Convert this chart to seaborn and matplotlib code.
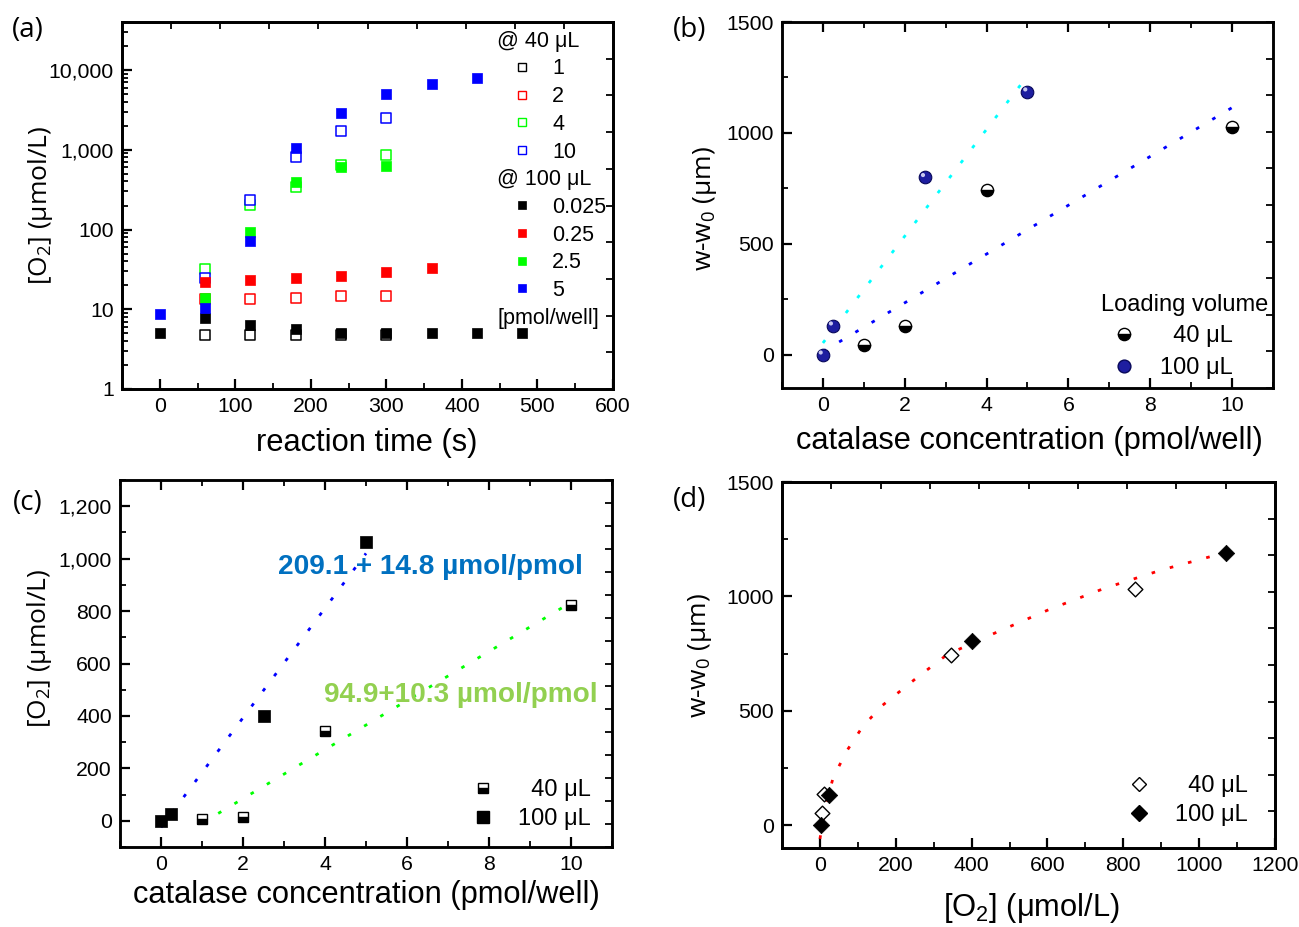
import numpy as np
import pandas as pd
import matplotlib
matplotlib.use("Agg")
import matplotlib.pyplot as plt
import matplotlib.transforms as mtransforms
from matplotlib.lines import Line2D
from matplotlib.ticker import MultipleLocator, FixedLocator, FuncFormatter, LogLocator, NullFormatter
import seaborn as sns

sns.set_theme(style="ticks")
plt.rcParams["font.family"] = ["Liberation Sans", "DejaVu Sans"]
plt.rcParams.update({
    "axes.linewidth": 1.8, "axes.edgecolor": "black",
    "xtick.color": "black", "ytick.color": "black", "text.color": "black",
    "axes.labelcolor": "black",
})

# ---------------- data ----------------
# (a) O2 vs reaction time, 40 uL loading (open squares)
time_40 = [60, 120, 180, 240, 300]
o2_40_c1 = [4.7, 4.7, 4.7, 4.7, 4.7]
o2_40_c2 = [13.5, 13.6, 14.0, 14.7, 14.7]
o2_40_c4 = [32, 205, 338, 645, 850]
o2_40_c10 = [25, 235, 800, 1710, 2510]
# (a) 100 uL loading (filled squares)
time_100_c0025 = [0, 60, 120, 180, 240, 300, 360, 420, 480]
o2_100_c0025 = [5.06, 7.8, 6.4, 5.6, 5.06, 5.0, 5.0, 5.0, 4.97]
time_100_c025 = [60, 120, 180, 240, 300, 360]
o2_100_c025 = [21.9, 23.5, 24.6, 26.4, 29.0, 33.0]
time_100_c25 = [60, 120, 180, 240, 300]
o2_100_c25 = [13.8, 92.5, 395, 601, 631]
time_100_c5 = [0, 60, 120, 180, 240, 300, 360, 420]
o2_100_c5 = [8.6, 10.4, 71.4, 1038, 2925, 5012, 6610, 7870]

# (b) w-w0 vs catalase concentration
cat_40 = [1, 2, 4, 10]
w_40 = [45, 129, 741, 1028]
cat_100 = [0, 0.25, 2.5, 5]
w_100 = [0, 131, 800, 1186]
fit_b100_x = [0, 5]
fit_b100_y = [53, 1257]
fit_b40_x = [0, 10]
fit_b40_y = [14, 1114]

# (c) O2 vs catalase concentration
o2c_40 = [6, 13, 344, 825]
o2c_100 = [0, 27, 400, 1064]
fit_c100_x = [0, 5]
fit_c100_y = [-25, 1020]
fit_c40_x = [1, 10]
fit_c40_y = [-9, 833]

# (d) w-w0 vs O2
o2d_40 = [4.5, 11, 346, 830]
wd_40 = [52, 135, 745, 1033]
o2d_100 = [2, 25, 402, 1070]
wd_100 = [0, 132, 803, 1190]
fit_d_x = [0, 9, 18, 35, 71, 112, 163, 256, 335, 459, 605, 750, 900, 1050]
fit_d_y = [-60, 26, 105, 208, 325, 429, 521, 645, 745, 838, 943, 1035, 1115, 1183]

legend_a_40 = ["1", "2", "4", "10"]
legend_a_100 = ["0.025", "0.25", "2.5", "5"]
series_colors = ["#000000", "#ff0000", "#00ff00", "#0000ff"]

# ---------------- figure ----------------
W, H = 1299, 927
fig = plt.figure(figsize=(W / 100, H / 100), dpi=100)


def add_ax(l, t, r, b):
    return fig.add_axes([l / W, (H - b) / H, (r - l) / W, (b - t) / H])


TICKFS = 15.3
LABELFS = 22.2
YLABFS = 19
LEGFS = 17
DOT = (0, (1.3, 5.5))


def style_ticks(ax):
    ax.tick_params(which="both", direction="in", labelsize=TICKFS, pad=6)
    ax.tick_params(which="major", length=7, width=1.6)
    ax.tick_params(which="minor", length=4, width=1.3)


def twin_ticks(ax, top_n=None, right_n=None):
    if top_n is not None:
        tx = ax.twiny()
        tx.set_xlim(0, top_n)
        tx.xaxis.set_major_locator(MultipleLocator(1))
        tx.tick_params(axis="x", direction="in", length=5, width=1.3, labeltop=False, top=True)
        tx.set_xticklabels([])
    if right_n is not None:
        ty = ax.twinx()
        ty.set_ylim(0, right_n)
        ty.yaxis.set_major_locator(MultipleLocator(1))
        ty.tick_params(axis="y", direction="in", length=5, width=1.3, labelright=False, right=True)
        ty.set_yticklabels([])


comma = FuncFormatter(lambda v, p: f"{v:,.0f}")

# ---------- (a) ----------
axa = add_ax(122, 22, 613, 389)
open_sets = [(time_40, o2_40_c1), (time_40, o2_40_c2), (time_40, o2_40_c4), (time_40, o2_40_c10)]
fill_sets = [(time_100_c0025, o2_100_c0025), (time_100_c025, o2_100_c025),
             (time_100_c25, o2_100_c25), (time_100_c5, o2_100_c5)]
for (xs, ys), c in zip(open_sets, series_colors):
    sns.scatterplot(x=xs, y=ys, ax=axa, marker="s", s=52, color=c, facecolor="white",
                    edgecolor=c, linewidth=1.1, legend=False, zorder=3)
for (xs, ys), c in zip(fill_sets, series_colors):
    sns.scatterplot(x=xs, y=ys, ax=axa, marker="s", s=52, color=c, edgecolor=c,
                    linewidth=0.5, legend=False, zorder=4)
axa.set_yscale("log")
axa.set_xlim(-50, 600)
axa.set_ylim(1, 40000)
axa.xaxis.set_major_locator(MultipleLocator(100))
axa.xaxis.set_minor_locator(MultipleLocator(50))
axa.yaxis.set_major_locator(FixedLocator([1, 10, 100, 1000, 10000]))
axa.yaxis.set_major_formatter(comma)
axa.yaxis.set_minor_locator(LogLocator(base=10, subs=np.arange(2, 10)))
axa.yaxis.set_minor_formatter(NullFormatter())
style_ticks(axa)
axa.set_xlabel("reaction time (s)", fontsize=LABELFS, va="center")
axa.xaxis.set_label_coords(0.499, -0.147)
axa.set_ylabel(r"[O$\mathregular{_2}$] (µmol/L)", fontsize=YLABFS, fontfamily="Open Sans", va="center")
axa.yaxis.set_label_coords(-0.167, 0.50)

handles, labels = [], []
handles.append(Line2D([], [], linestyle="none"))
labels.append("@ 40 μL")
for lab, c in zip(legend_a_40, series_colors):
    handles.append(Line2D([], [], linestyle="none", marker="s", markersize=6.3,
                          markerfacecolor="white", markeredgecolor=c, markeredgewidth=1.0))
    labels.append(lab)
handles.append(Line2D([], [], linestyle="none"))
labels.append("@ 100 μL")
for lab, c in zip(legend_a_100, series_colors):
    handles.append(Line2D([], [], linestyle="none", marker="s", markersize=6.3,
                          markerfacecolor=c, markeredgecolor=c, markeredgewidth=0.5))
    labels.append(lab)
handles.append(Line2D([], [], linestyle="none"))
labels.append("[pmol/well]")
leg_a = axa.legend(handles, labels, loc="upper left", bbox_to_anchor=(0.793, 0.976),
                   frameon=False, fontsize=15.5, handlelength=1.0, handletextpad=0.9,
                   labelspacing=0.31, borderpad=0, borderaxespad=0)
twin_ticks(axa, top_n=10, right_n=10)

# ---------- (b) ----------
axb = add_ax(782, 22, 1273, 388)
sns.lineplot(x=fit_b100_x, y=fit_b100_y, ax=axb, color="#00ffff", linewidth=2.0,
             linestyle=DOT, errorbar=None, zorder=2)
sns.lineplot(x=fit_b40_x, y=fit_b40_y, ax=axb, color="#0000ff", linewidth=2.0,
             linestyle=DOT, errorbar=None, zorder=2)
sns.lineplot(x=cat_40, y=w_40, ax=axb, color="black", linestyle="none", marker="o",
             markersize=8.8, fillstyle="bottom", markerfacecolor="black",
             markerfacecoloralt="white", markeredgecolor="black", markeredgewidth=1.0,
             errorbar=None, zorder=4)
sns.scatterplot(x=cat_100, y=w_100, ax=axb, marker="o", s=82, color="#1e1ea0",
                edgecolor="#08085a", linewidth=0.8, legend=False, zorder=4)
hl = axb.transData + mtransforms.ScaledTranslation(-1.6 / 72, 1.6 / 72, fig.dpi_scale_trans)
sns.scatterplot(x=cat_100, y=w_100, ax=axb, marker="o", s=9, color="#c8c8f0",
                edgecolor="none", linewidth=0, legend=False, zorder=5, transform=hl)
axb.set_xlim(-1, 11)
axb.set_ylim(-150, 1500)
axb.xaxis.set_major_locator(MultipleLocator(2))
axb.xaxis.set_minor_locator(MultipleLocator(1))
axb.yaxis.set_major_locator(MultipleLocator(500))
axb.yaxis.set_minor_locator(MultipleLocator(250))
style_ticks(axb)
axb.tick_params(which="both", top=True)
axb.set_xlabel("catalase concentration (pmol/well)", fontsize=LABELFS, va="center")
axb.xaxis.set_label_coords(0.504, -0.145)
axb.set_ylabel(r"w-w$\mathregular{_0}$ (µm)", fontsize=YLABFS, fontfamily="Open Sans", va="center")
axb.yaxis.set_label_coords(-0.157, 0.49)
hb = [Line2D([], [], linestyle="none", marker="o", markersize=8.8, fillstyle="bottom",
             markerfacecolor="black", markerfacecoloralt="white", markeredgecolor="black"),
      Line2D([], [], linestyle="none", marker="o", markersize=9.2, markerfacecolor="#1e1ea0",
             markeredgecolor="#08085a")]
leg_b = axb.legend(hb, ["  40 μL", "100 μL"], title="Loading volume", loc="lower right",
                   bbox_to_anchor=(0.99, 0.025), frameon=False, fontsize=LEGFS,
                   title_fontsize=17, handlelength=2.0, handletextpad=0.5,
                   labelspacing=0.4, borderpad=0, borderaxespad=0, alignment="left")
twin_ticks(axb, right_n=10)

# ---------- (c) ----------
axc = add_ax(120, 480, 612, 847)
sns.lineplot(x=fit_c100_x, y=fit_c100_y, ax=axc, color="#0000ff", linewidth=2.0,
             linestyle=DOT, errorbar=None, zorder=2)
sns.lineplot(x=fit_c40_x, y=fit_c40_y, ax=axc, color="#00ff00", linewidth=2.0,
             linestyle=DOT, errorbar=None, zorder=2)
sns.lineplot(x=cat_40, y=o2c_40, ax=axc, color="black", linestyle="none", marker="s",
             markersize=7.6, fillstyle="bottom", markerfacecolor="black",
             markerfacecoloralt="white", markeredgecolor="black", markeredgewidth=1.0,
             errorbar=None, zorder=4)
sns.scatterplot(x=cat_100, y=o2c_100, ax=axc, marker="s", s=64, color="black",
                edgecolor="black", linewidth=0.5, legend=False, zorder=4)
axc.set_xlim(-1, 11)
axc.set_ylim(-100, 1300)
axc.xaxis.set_major_locator(MultipleLocator(2))
axc.xaxis.set_minor_locator(MultipleLocator(1))
axc.yaxis.set_major_locator(MultipleLocator(200))
axc.yaxis.set_minor_locator(MultipleLocator(100))
axc.yaxis.set_major_formatter(comma)
style_ticks(axc)
axc.tick_params(which="both", top=True)
axc.set_xlabel("catalase concentration (pmol/well)", fontsize=LABELFS, va="center")
axc.xaxis.set_label_coords(0.5, -0.13)
axc.set_ylabel(r"[O$\mathregular{_2}$] (µmol/L)", fontsize=YLABFS, fontfamily="Open Sans", va="center")
axc.yaxis.set_label_coords(-0.163, 0.54)
axc.text(0.630, 0.763, "209.1 + 14.8 µmol/pmol", transform=axc.transAxes, ha="center",
         va="center", fontsize=20.2, fontweight="bold", color="#0070c0", zorder=6)
axc.text(0.693, 0.414, "94.9+10.3 µmol/pmol", transform=axc.transAxes, ha="center",
         va="center", fontsize=20.2, fontweight="bold", color="#92d050", zorder=6)
hc = [Line2D([], [], linestyle="none", marker="s", markersize=7.6, fillstyle="bottom",
             markerfacecolor="black", markerfacecoloralt="white", markeredgecolor="black"),
      Line2D([], [], linestyle="none", marker="s", markersize=8.0, markerfacecolor="black",
             markeredgecolor="black")]
axc.legend(hc, ["  40 μL", "100 μL"], loc="lower right", bbox_to_anchor=(0.958, 0.045),
           frameon=False, fontsize=LEGFS, handlelength=1.6, handletextpad=0.7,
           labelspacing=0.3, borderpad=0, borderaxespad=0)
twin_ticks(axc, right_n=16)

# ---------- (d) ----------
axd = add_ax(782, 482, 1275, 848)
sns.lineplot(x=fit_d_x, y=fit_d_y, ax=axd, color="#ff0000", linewidth=2.0,
             linestyle=DOT, errorbar=None, zorder=2)
sns.scatterplot(x=o2d_40, y=wd_40, ax=axd, marker="D", s=56, color="black",
                facecolor="white", edgecolor="black", linewidth=1.0, legend=False, zorder=4)
sns.scatterplot(x=o2d_100, y=wd_100, ax=axd, marker="D", s=70, color="black",
                edgecolor="black", linewidth=0.5, legend=False, zorder=4)
axd.set_xlim(-100, 1200)
axd.set_ylim(-100, 1500)
axd.xaxis.set_major_locator(MultipleLocator(200))
axd.xaxis.set_minor_locator(MultipleLocator(100))
axd.yaxis.set_major_locator(MultipleLocator(500))
axd.yaxis.set_minor_locator(MultipleLocator(250))
style_ticks(axd)
axd.set_xlabel(r"[O$\mathregular{_2}$] (μmol/L)", fontsize=LABELFS, va="center")
axd.xaxis.set_label_coords(0.505, -0.164)
axd.set_ylabel(r"w-w$\mathregular{_0}$ (µm)", fontsize=YLABFS, fontfamily="Open Sans", va="center")
axd.yaxis.set_label_coords(-0.166, 0.527)
hd = [Line2D([], [], linestyle="none", marker="D", markersize=7.5, markerfacecolor="white",
             markeredgecolor="black"),
      Line2D([], [], linestyle="none", marker="D", markersize=8.3, markerfacecolor="black",
             markeredgecolor="black")]
axd.legend(hd, ["  40 μL", "100 μL"], loc="lower right", bbox_to_anchor=(0.944, 0.06),
           frameon=False, fontsize=LEGFS, handlelength=1.6, handletextpad=0.7,
           labelspacing=0.3, borderpad=0, borderaxespad=0)
twin_ticks(axd, top_n=10, right_n=10)

# panel letters
for lab, (px, py) in zip(["(a)", "(b)", "(c)", "(d)"], [(28, 30), (690, 30), (28, 503), (690, 500)]):
    fig.text(px / W, 1 - py / H, lab, ha="center", va="center", fontsize=20, fontfamily="Open Sans")

# move the header rows of legend (a) to the left of the marker column
fig.canvas.draw()
renderer = fig.canvas.get_renderer()
for t in leg_a.get_texts():
    if t.get_text() in ("@ 40 μL", "@ 100 μL", "[pmol/well]"):
        bb = t.get_window_extent(renderer)
        yc = (bb.y0 + bb.y1) / 2
        t.set_visible(False)
        fig.text(497 / W, yc / fig.bbox.height, t.get_text(), ha="left", va="center",
                 fontsize=15.5)

fig.savefig("out.png", dpi=100)
